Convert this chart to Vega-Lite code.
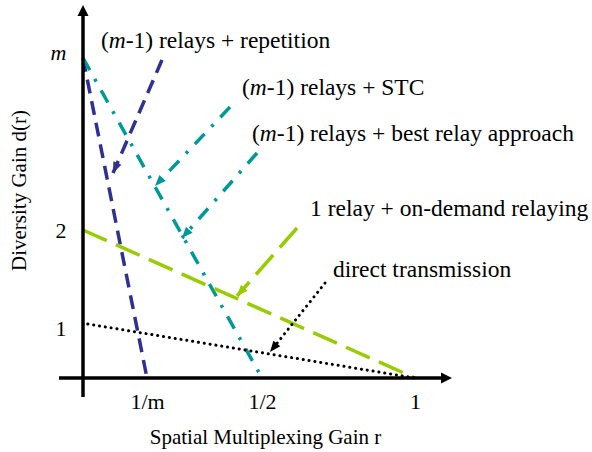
{
  "$schema": "https://vega.github.io/schema/vega-lite/v6.json",
  "width": 372,
  "height": 378,
  "autosize": {"type": "none"},
  "padding": {"left": 83, "top": 0, "right": 137, "bottom": 74},
  "background": "white",
  "config": {"view": {"stroke": null}, "font": "Liberation Serif"},
  "datasets": {
    "lines": [
      {"id": "rep_curve", "style": "repetition", "kind": "curve", "k": 0, "r": 0, "d": 5},
      {"id": "rep_curve", "style": "repetition", "kind": "curve", "k": 1, "r": 0.2, "d": 0},
      {"id": "stc_curve", "style": "stc", "kind": "curve", "k": 0, "r": 0, "d": 5},
      {"id": "stc_curve", "style": "stc", "kind": "curve", "k": 1, "r": 0.5, "d": 0},
      {"id": "demand_curve", "style": "ondemand", "kind": "curve", "k": 0, "r": 0, "d": 2},
      {"id": "demand_curve", "style": "ondemand", "kind": "curve", "k": 1, "r": 1, "d": 0},
      {"id": "direct_curve", "style": "direct", "kind": "curve", "k": 0, "r": 0.015, "d": 1},
      {"id": "direct_curve", "style": "direct", "kind": "curve", "k": 1, "r": 1, "d": 0},
      {"id": "rep_leader", "style": "repetition", "kind": "leader", "k": 0, "r": 0.2391, "d": 4.965},
      {"id": "rep_leader", "style": "repetition", "kind": "leader", "k": 1, "r": 0.0938, "d": 2.994},
      {"id": "stc_leader", "style": "stc", "kind": "leader", "k": 0, "r": 0.4165, "d": 4.145},
      {"id": "stc_leader", "style": "stc", "kind": "leader", "k": 1, "r": 0.2209, "d": 2.767},
      {"id": "best_leader", "style": "stc", "kind": "leader", "k": 0, "r": 0.487, "d": 3.343},
      {"id": "best_leader", "style": "stc", "kind": "leader", "k": 1, "r": 0.2913, "d": 1.915},
      {"id": "demand_leader", "style": "ondemand", "kind": "leader", "k": 0, "r": 0.6144, "d": 2.035},
      {"id": "demand_leader", "style": "ondemand", "kind": "leader", "k": 1, "r": 0.4348, "d": 1.298},
      {"id": "direct_leader", "style": "direct", "kind": "leader", "k": 0, "r": 0.7059, "d": 1.436},
      {"id": "direct_leader", "style": "direct", "kind": "leader", "k": 1, "r": 0.5261, "d": 0.481}
    ],
    "axislines": [
      {"r": -0.075, "r2": 1.085, "d": 0, "d2": 0},
      {"r": 0, "r2": 0, "d": -0.352, "d2": 5.75}
    ],
    "axisheads": [
      {"id": "xaxis", "r": 1.121, "d": 0},
      {"id": "yaxis", "r": 0, "d": 5.924}
    ],
    "mlabels": [
      {"r": 0.056, "d": 5.17, "rest": "-1) relays + repetition"},
      {"r": 0.448, "d": 4.355, "rest": "-1) relays + STC"},
      {"r": 0.474, "d": 3.552, "rest": "-1) relays + best relay approach"}
    ],
    "plainlabels": [
      {"r": 0.657, "d": 2.244, "text": "1 relay + on-demand relaying"},
      {"r": 0.732, "d": 1.5, "text": "direct transmission"}
    ]
  },
  "encoding": {
    "x": {
      "field": "r", "type": "quantitative",
      "scale": {"domain": [0, 0.2, 0.5, 1], "range": [0, 64, 179, 332], "nice": false, "zero": false},
      "axis": {
        "values": [0.2, 0.5, 1],
        "labelExpr": "datum.value == 0.2 ? '1/m' : (datum.value == 0.5 ? '1/2' : '1')",
        "domain": false, "ticks": false, "tickSize": 0, "grid": false,
        "labelFont": "Liberation Serif", "labelFontSize": 22, "labelColor": "black",
        "labelBaseline": "alphabetic", "labelPadding": 30, "labelAlign": "center",
        "title": "Spatial Multiplexing Gain r",
        "titleFont": "Liberation Serif", "titleFontSize": 21, "titleFontWeight": "normal", "titleColor": "black",
        "titleX": 182, "titleY": 65, "titleBaseline": "alphabetic", "titleAlign": "center"
      }
    },
    "y": {
      "field": "d", "type": "quantitative",
      "scale": {"domain": [0, 1, 2, 5], "range": [378, 324, 230, 58], "nice": false, "zero": false},
      "axis": {
        "values": [1, 2, 5],
        "labelExpr": "datum.value == 5 ? 'm' : datum.label",
        "labelFontStyle": {"condition": {"test": "datum.value == 5", "value": "italic"}, "value": "normal"},
        "labelOffset": {"condition": [{"test": "datum.value == 5", "value": -6}, {"test": "datum.value == 1", "value": 4}], "value": 0},
        "domain": false, "ticks": false, "tickSize": 0, "grid": false,
        "labelFont": "Liberation Serif", "labelFontSize": 22, "labelColor": "black",
        "labelBaseline": "middle", "labelPadding": 17,
        "title": "Diversity Gain d(r)",
        "titleFont": "Liberation Serif", "titleFontSize": 21, "titleFontWeight": "normal", "titleColor": "black",
        "titleAngle": 270, "titleX": -58, "titleY": 190, "titleBaseline": "alphabetic", "titleAlign": "center"
      }
    }
  },
  "layer": [
    {
      "data": {"name": "lines"},
      "transform": [{"filter": "datum.style != 'direct'"}],
      "mark": {"type": "line", "strokeWidth": 3.5, "strokeCap": "butt"},
      "encoding": {
        "detail": {"field": "id", "type": "nominal"},
        "order": {"field": "k", "type": "quantitative"},
        "color": {"field": "style", "type": "nominal", "legend": null,
          "scale": {"domain": ["repetition", "stc", "ondemand", "direct"], "range": ["#2E3192", "#009999", "#99CC00", "#000000"]}},
        "strokeDash": {"field": "style", "type": "nominal", "legend": null,
          "scale": {"domain": ["repetition", "stc", "ondemand"], "range": [[14, 8], [14, 10, 3, 10], [26, 10]]}}
      }
    },
    {
      "data": {"name": "lines"},
      "transform": [{"filter": "datum.style == 'direct'"}],
      "mark": {"type": "line", "strokeWidth": 3, "strokeCap": "round", "strokeDash": [0.1, 5.8], "color": "black"},
      "encoding": {
        "detail": {"field": "id", "type": "nominal"},
        "order": {"field": "k", "type": "quantitative"}
      }
    },
    {
      "data": {"name": "lines"},
      "transform": [{"filter": "datum.kind == 'leader' && datum.k == 1"}],
      "mark": {"type": "point", "filled": true, "opacity": 1, "shape": "M0,0L0.8,2L-0.8,2Z", "size": 121, "strokeWidth": 0},
      "encoding": {
        "color": {"field": "style", "type": "nominal", "legend": null,
          "scale": {"domain": ["repetition", "stc", "ondemand", "direct"], "range": ["#2E3192", "#009999", "#99CC00", "#000000"]}},
        "angle": {"field": "id", "type": "nominal", "legend": null,
          "scale": {"type": "ordinal", "domain": ["rep_leader", "stc_leader", "best_leader", "demand_leader", "direct_leader", "xaxis", "yaxis"], "range": [203.4, 223.5, 221.4, 221.4, 218.6, 90, 0]}}
      }
    },
    {
      "data": {"name": "axislines"},
      "mark": {"type": "rule", "strokeWidth": 3.5, "color": "black"},
      "encoding": {
        "x2": {"field": "r2"},
        "y2": {"field": "d2"}
      }
    },
    {
      "data": {"name": "axisheads"},
      "mark": {"type": "point", "filled": true, "opacity": 1, "color": "black", "shape": "M0,0L1,2L-1,2Z", "size": 121, "strokeWidth": 0},
      "encoding": {
        "angle": {"field": "id", "type": "nominal", "legend": null,
          "scale": {"type": "ordinal", "domain": ["rep_leader", "stc_leader", "best_leader", "demand_leader", "direct_leader", "xaxis", "yaxis"], "range": [203.4, 223.5, 221.4, 221.4, 218.6, 90, 0]}}
      }
    },
    {
      "data": {"name": "mlabels"},
      "mark": {"type": "text", "font": "Liberation Serif", "fontSize": 23.5, "align": "left", "baseline": "alphabetic", "color": "black"},
      "encoding": {"text": {"value": "("}}
    },
    {
      "data": {"name": "mlabels"},
      "mark": {"type": "text", "font": "Liberation Serif", "fontSize": 23.5, "fontStyle": "italic", "align": "left", "baseline": "alphabetic", "color": "black", "dx": 7.8},
      "encoding": {"text": {"value": "m"}}
    },
    {
      "data": {"name": "mlabels"},
      "mark": {"type": "text", "font": "Liberation Serif", "fontSize": 23.5, "align": "left", "baseline": "alphabetic", "color": "black", "dx": 24.8},
      "encoding": {"text": {"field": "rest", "type": "nominal"}}
    },
    {
      "data": {"name": "plainlabels"},
      "mark": {"type": "text", "font": "Liberation Serif", "fontSize": 23.5, "align": "left", "baseline": "alphabetic", "color": "black"},
      "encoding": {"text": {"field": "text", "type": "nominal"}}
    }
  ]
}
